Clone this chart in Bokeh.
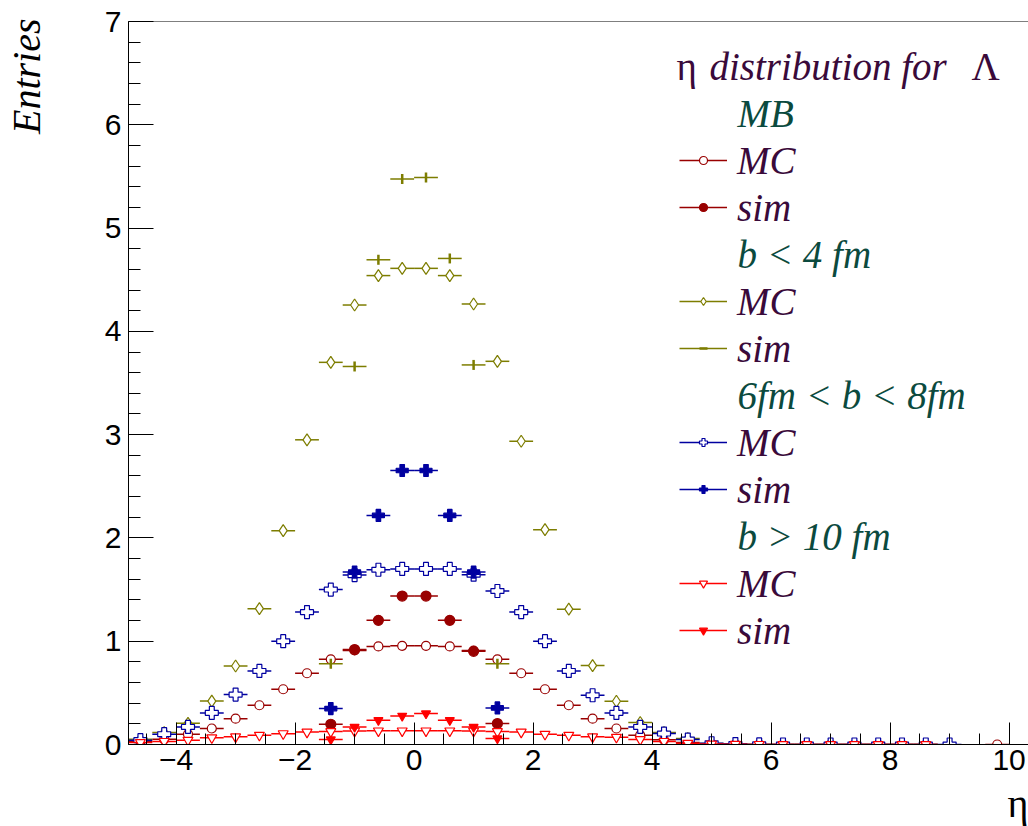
import math

from bokeh.embed import file_html
from bokeh.models import (ColumnDataSource, Label, Legend, LegendItem, Range1d,
                          SingleIntervalTicker, Span, Title)
from bokeh.plotting import figure
from bokeh.resources import INLINE

# ---------------------------------------------------------------- data
# pseudorapidity bin centres (bin width 0.4)
eta_mc = [-4.6, -4.2, -3.8, -3.4, -3.0, -2.6, -2.2, -1.8, -1.4, -1.0, -0.6, -0.2,
          0.2, 0.6, 1.0, 1.4, 1.8, 2.2, 2.6, 3.0, 3.4, 3.8, 4.2, 4.6,
          5.0, 5.4, 5.8, 6.2, 6.6, 7.0, 7.4, 7.8, 8.2, 8.6, 9.0, 9.4, 9.8]
eta_sim = [-1.4, -1.0, -0.6, -0.2, 0.2, 0.6, 1.0, 1.4]
bin_half_width = 0.2

# minimum bias
mb_mc = [0.03, 0.05, 0.10, 0.155, 0.25, 0.38, 0.535, 0.69, 0.825, 0.91, 0.95, 0.955,
         0.955, 0.95, 0.91, 0.825, 0.69, 0.535, 0.38, 0.25, 0.155, 0.09, 0.045, 0.02,
         0.005, 0.002, 0.001, 0.0, 0.0, 0.0, 0.0, 0.0, 0.0, 0.0, None, None, 0.0]
mb_sim = [0.196, 0.919, 1.202, 1.437, 1.437, 1.202, 0.902, 0.203]

# b < 4 fm
central_mc = [0.05, 0.116, 0.205, 0.42, 0.76, 1.315, 2.07, 2.95, 3.70, 4.255, 4.54, 4.61,
              4.61, 4.54, 4.265, 3.71, 2.936, 2.08, 1.31, 0.764, 0.419, 0.213, 0.116, 0.058,
              0.01, 0.003, 0.001, 0.0, 0.0, 0.0, 0.0, 0.0, 0.0, 0.0, None, None, None]
central_sim = [0.783, 3.66, 4.693, 5.474, 5.49, 4.706, 3.675, 0.783]

# 6 fm < b < 8 fm
mid_mc = [0.042, 0.10, 0.17, 0.306, 0.483, 0.712, 1.0, 1.282, 1.50, 1.64, 1.692, 1.70,
          1.70, 1.70, 1.644, 1.486, 1.282, 1.0, 0.712, 0.477, 0.306, 0.17, 0.106, 0.048,
          0.012, 0.004, 0.001, 0.0, 0.0, 0.0, 0.0, 0.0, 0.0, 0.0, 0.0, None, None]
mid_sim = [0.348, 1.669, 2.218, 2.653, 2.653, 2.218, 1.669, 0.354]

# b > 10 fm
periph_mc = [0.02, 0.03, 0.042, 0.065, 0.074, 0.09, 0.105, 0.12, 0.125, 0.13, 0.132, 0.132,
             0.132, 0.132, 0.13, 0.125, 0.12, 0.10, 0.09, 0.074, 0.07, 0.048, 0.03, 0.012,
             0.004, 0.002, 0.001, 0.0, 0.0, 0.0, 0.0, 0.0, 0.0, 0.0, None, None, None]
periph_sim = [0.048, 0.17, 0.235, 0.277, 0.30, 0.235, 0.17, 0.058]

x_ticks_minus = {-4: "\u22124", -2: "\u22122"}

# ---------------------------------------------------------------- style
DARK_RED = "#990000"
OLIVE = "#7d7d00"
BLUE = "#0000a0"
RED = "#ff0000"
TEXT_PURPLE = "#3a0a3a"
TEXT_TEAL = "#0b4a3e"
SERIF = "Liberation Serif"
SANS = "Liberation Sans"
LEGEND_FONT = "39px"

W, H = 1028, 826
LEFT, TOP, BOTTOM = 128, 21, 82
X0 = -4.8
PX_PER_X = 59.5
X1 = X0 + (W - LEFT) / PX_PER_X
Y0, Y1 = 0.0, 7.0
PX_PER_Y = (H - TOP - BOTTOM) / (Y1 - Y0)


def data_x(sx):
    return X0 + (sx - LEFT) / PX_PER_X


def data_y(sy):
    return Y1 - (sy - TOP) / PX_PER_Y


p = figure(width=W, height=H, x_range=Range1d(X0, X1), y_range=Range1d(Y0, Y1),
           output_backend="svg", toolbar_location=None,
           min_border_left=LEFT, min_border_right=0, min_border_top=TOP,
           min_border_bottom=BOTTOM)
p.background_fill_color = "white"
p.border_fill_color = "white"
p.outline_line_color = None
p.xgrid.visible = False
p.ygrid.visible = False

# axes in the ROOT look: ticks pointing inwards
p.xaxis.ticker = SingleIntervalTicker(interval=2, num_minor_ticks=4)
p.yaxis.ticker = SingleIntervalTicker(interval=1, num_minor_ticks=5)
p.xaxis.major_label_overrides = x_ticks_minus
for ax, major, minor in ((p.xaxis, 22, 11), (p.yaxis, 25, 12)):
    ax.major_tick_in = major
    ax.major_tick_out = 0
    ax.minor_tick_in = minor
    ax.minor_tick_out = 0
    ax.axis_line_color = "black"
    ax.major_tick_line_color = "black"
    ax.minor_tick_line_color = "black"
    ax.major_label_text_font = SANS
    ax.major_label_text_font_size = "30px"
    ax.major_label_text_color = "black"
    # blank spacer labels push the real axis titles further out
    ax.axis_label = " "
    ax.axis_label_text_font_size = "2px"
p.yaxis.major_label_standoff = 7
p.xaxis.major_label_standoff = 5
p.yaxis.axis_label_standoff = 48
p.xaxis.axis_label_standoff = 1

p.add_layout(Span(location=Y1, dimension="width", line_color="black", line_width=1))

# axis titles sit at the far ends of their axes
p.add_layout(Title(text="Entries", align="right", text_font=SERIF,
                   text_font_style="italic", text_font_size="40px",
                   text_color="black", standoff=0, offset=-3), "left")
p.add_layout(Title(text="\u03b7", align="right", text_font=SERIF,
                   text_font_style="normal", text_font_size="40px",
                   text_color="black", standoff=0, offset=0), "below")


def draw_series(xs, ys, color, marker, size, filled, line_width=1.2, angle=0.0):
    pts = [(x, y) for x, y in zip(xs, ys) if y is not None]
    src = ColumnDataSource(dict(
        x=[x for x, _ in pts], y=[y for _, y in pts],
        x0=[x - bin_half_width for x, _ in pts], x1=[x + bin_half_width for x, _ in pts]))
    seg = p.segment(x0="x0", x1="x1", y0="y", y1="y", source=src,
                    line_color=color, line_width=1.5)
    sc = p.scatter(x="x", y="y", source=src, marker=marker, size=size, angle=angle,
                   line_color=color, line_width=line_width,
                   fill_color=color if filled else "white")
    return [seg, sc]


r_mb_mc = draw_series(eta_mc, mb_mc, DARK_RED, "circle", 9, False)
r_mb_sim = draw_series(eta_sim, mb_sim, DARK_RED, "circle", 10, True)
r_c_mc = draw_series(eta_mc, central_mc, OLIVE, "diamond", 12, False)
r_c_sim = draw_series(eta_sim, central_sim, OLIVE, "dash", 10, True, line_width=2.5,
                      angle=math.pi / 2)
r_m_mc = draw_series(eta_mc, mid_mc, BLUE, "plus", 13, False)
r_m_sim = draw_series(eta_sim, mid_sim, BLUE, "plus", 12, True)
r_p_mc = draw_series(eta_mc, periph_mc, RED, "inverted_triangle", 10, False)
r_p_sim = draw_series(eta_sim, periph_sim, RED, "inverted_triangle", 9, True)

# ---------------------------------------------------------------- legend
ROW_H = 47
LEG_LEFT = 679
LEG_TOP = 89.5
headers = ["MB", "b < 4 fm", "6fm < b < 8fm", "b > 10 fm"]
groups = [(r_mb_mc, r_mb_sim), (r_c_mc, r_c_sim), (r_m_mc, r_m_sim), (r_p_mc, r_p_sim)]

items = []
for mc, sim in groups:
    items.append(LegendItem(label="", renderers=[]))
    items.append(LegendItem(label="MC", renderers=mc))
    items.append(LegendItem(label="sim", renderers=sim))

legend = Legend(items=items, location=(LEG_LEFT - LEFT, (H - BOTTOM) - (LEG_TOP + 12 * ROW_H)),
                glyph_width=48, glyph_height=20, label_height=ROW_H, label_standoff=10,
                spacing=0, padding=0, margin=0, border_line_color=None,
                background_fill_alpha=0, label_text_font=SERIF,
                label_text_font_style="italic", label_text_font_size=LEGEND_FONT,
                label_text_color=TEXT_PURPLE)
p.add_layout(legend)

for i, text in enumerate(headers):
    row_mid = LEG_TOP + (3 * i + 0.5) * ROW_H
    p.add_layout(Label(x=data_x(LEG_LEFT + 58), y=data_y(row_mid), text=text,
                       text_font=SERIF, text_font_style="italic",
                       text_font_size=LEGEND_FONT, text_color=TEXT_TEAL,
                       text_baseline="middle", text_align="left"))

title_mid = LEG_TOP - 0.5 * ROW_H
for sx, text, style in ((676, "\u03b7", "normal"), (709, "distribution for", "italic"),
                        (971, "\u039b", "normal")):
    p.add_layout(Label(x=data_x(sx), y=data_y(title_mid), text=text,
                       text_font=SERIF, text_font_style=style,
                       text_font_size=LEGEND_FONT, text_color=TEXT_PURPLE,
                       text_baseline="middle", text_align="left"))

open("out.html", "w").write(file_html(p, INLINE))
